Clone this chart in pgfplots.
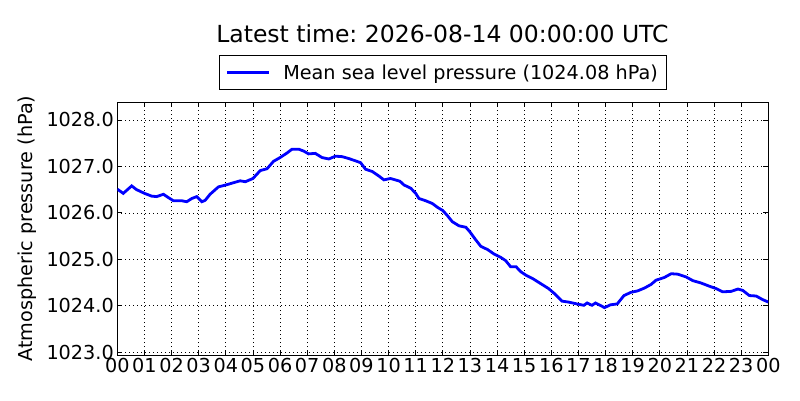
\documentclass[border=0pt]{standalone}
\usepackage{fontspec}
\setmainfont{DejaVu Sans}
\usepackage{pgfplots}
\pgfplotsset{compat=1.18}
\begin{document}
\frenchspacing
\begin{tikzpicture}[x=1bp,y=1bp]
\path[use as bounding box] (0,0) rectangle (800,400);
\node[anchor=base, font=\fontsize{23.6}{28}\selectfont, inner sep=0pt] at (442.5,357.7) {Latest time: 2026-08-14 00:00:00 UTC};
\begin{axis}[
  at={(117.3bp,45bp)}, anchor=south west,
  width=651bp, height=252.7bp, scale only axis,
  xmin=0, xmax=24, ymin=1022.94, ymax=1028.38,
  xtick={0,1,...,24},
  xticklabels={00,01,02,03,04,05,06,07,08,09,10,11,12,13,14,15,16,17,18,19,20,21,22,23,00},
  ytick={1023,1024,1025,1026,1027,1028},
  yticklabels={1023.0,1024.0,1025.0,1026.0,1027.0,1028.0},
  tick align=inside, major tick length=5bp,
  tick style={black, line width=0.8bp},
  axis line style={black, line width=1bp},
  grid=major, grid style={black, line width=0.7bp, dash pattern=on 1bp off 3bp},
  /pgf/number format/assume math mode=true,
  ticklabel style={font=\fontsize{19.3}{23}\selectfont},
  ylabel={Atmospheric pressure (hPa)},
  ylabel style={at={(axis description cs:-0.1387,0.5)}, anchor=center, font=\fontsize{19.3}{23}\selectfont},
  legend style={at={(0.5,1)}, yshift=12.3bp, anchor=south, draw=black, line width=0.8bp,
    font=\fontsize{19.3}{23}\selectfont, inner xsep=6.2bp, inner ysep=7bp,
    /tikz/every odd column/.append style={column sep=11bp}},
  legend cell align=left,
  legend image code/.code={\draw[#1, line width=2.5bp] (0bp,0bp) -- (42bp,0bp);},
]
\addplot[blue, line width=2.8bp] coordinates {
(0,1026.51) (0.22,1026.42) (0.53,1026.58) (0.71,1026.50) (1.0,1026.42) (1.27,1026.36)
(1.45,1026.35) (1.7,1026.40) (1.88,1026.33) (2.07,1026.26) (2.38,1026.26) (2.56,1026.24)
(2.75,1026.31) (2.93,1026.35) (3.12,1026.24) (3.24,1026.27) (3.42,1026.40) (3.73,1026.56)
(4.0,1026.60) (4.29,1026.65) (4.53,1026.69) (4.72,1026.67) (5.0,1026.74) (5.27,1026.91)
(5.52,1026.95) (5.76,1027.11) (6.0,1027.19) (6.26,1027.29) (6.44,1027.37) (6.69,1027.37)
(6.87,1027.33) (7.05,1027.27) (7.3,1027.28) (7.55,1027.19) (7.8,1027.16) (8.04,1027.22)
(8.29,1027.21) (8.53,1027.17) (8.78,1027.12) (8.97,1027.08) (9.15,1026.94) (9.4,1026.89)
(9.65,1026.79) (9.83,1026.71) (10.07,1026.74) (10.25,1026.71) (10.42,1026.68) (10.57,1026.60)
(10.82,1026.53) (11.0,1026.42) (11.12,1026.31) (11.37,1026.26) (11.62,1026.20) (11.8,1026.12)
(12.0,1026.05) (12.17,1025.94) (12.35,1025.81) (12.6,1025.72) (12.85,1025.69) (13.0,1025.59)
(13.2,1025.43) (13.4,1025.28) (13.65,1025.21) (13.9,1025.11) (14.14,1025.04) (14.32,1024.97)
(14.5,1024.84) (14.7,1024.84) (14.88,1024.73) (15.06,1024.66) (15.3,1024.59) (15.6,1024.48)
(15.9,1024.37) (16.14,1024.25) (16.39,1024.10) (16.63,1024.08) (16.94,1024.04) (17.2,1024.01)
(17.32,1024.06) (17.5,1024.01) (17.63,1024.06) (17.8,1024.01) (17.96,1023.96) (18.18,1024.02)
(18.43,1024.04) (18.68,1024.22) (18.94,1024.29) (19.18,1024.32) (19.43,1024.38) (19.68,1024.46)
(19.86,1024.55) (20.17,1024.61) (20.42,1024.69) (20.66,1024.68) (20.97,1024.62) (21.22,1024.54)
(21.52,1024.49) (21.83,1024.42) (22.08,1024.37) (22.32,1024.30) (22.63,1024.31) (22.88,1024.36)
(23.06,1024.33) (23.3,1024.22) (23.55,1024.21) (23.8,1024.13) (24.0,1024.08)
};
\addlegendentry{Mean sea level pressure (1024.08 hPa)}
\end{axis}
\end{tikzpicture}
\end{document}
